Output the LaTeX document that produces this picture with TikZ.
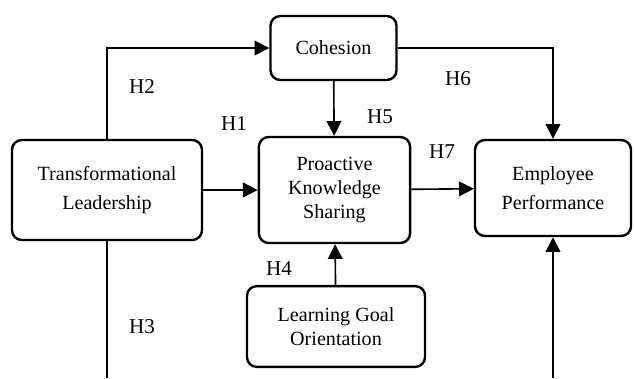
\documentclass[tikz,border=0pt]{standalone}
\usepackage{fontspec}
\setmainfont{Liberation Serif}
\usepackage{tikz}
\usetikzlibrary{
    arrows.meta,
    positioning
}
\tikzset{
  construct/.style = {draw, line width=1.7pt, rounded corners=7pt,
                      align=center, inner sep=2pt,
                      font=\fontsize{14.3}{17}\selectfont},
  hyp/.style       = {font=\fontsize{15}{17}\selectfont},
  arr/.style       = {-{Triangle[length=10.5pt,width=10.5pt]}, line width=1.15pt},
  ln/.style        = {line width=1.15pt}
}

\begin{document}
\begin{tikzpicture}[x=0.025cm, y=-0.025cm]
    \useasboundingbox (0,0) rectangle (635,378);

    % constructs
    \node[construct, minimum width=3.15cm, minimum height=1.6cm] (coh) at (333.5,48) {Cohesion};
    \node[construct, minimum width=4.75cm, minimum height=2.5cm,
          font=\fontsize{14.3}{21}\selectfont] (tl) at (107,190) {Transformational\\Leadership};
    \node[construct, minimum width=3.78cm, minimum height=2.65cm] (pks) at (334.5,190) {Proactive\\Knowledge\\Sharing};
    \node[construct, minimum width=3.9cm, minimum height=2.4cm,
          font=\fontsize{14.3}{21}\selectfont] (ep) at (553,188) {Employee\\Performance};
    \node[construct, minimum width=4.45cm, minimum height=2.02cm] (lgo) at (336,326.5) {Learning Goal\\Orientation};

    % loose ends running off the bottom
    \coordinate (tlout) at (107,378);
    \coordinate (epin) at (553,378);

    % paths
    \draw[arr] (tl.north) |- (coh.west);
    \draw[arr] (coh) -- (pks);
    \draw[arr] (coh.east) -| (ep.north);
    \draw[arr] (tl.east) -- (pks.west);
    \draw[arr] (pks) -- (ep);
    \draw[arr] (lgo) -- (pks);
    \draw[ln] (tl.south) -- (tlout);
    \draw[arr] (epin) -- (ep.south);

    % hypothesis labels
    \node[hyp] (h1) at (234,124) {H1};
    \node[hyp] (h2) at (142,87) {H2};
    \node[hyp] (h3) at (142,327) {H3};
    \node[hyp] (h4) at (279,269) {H4};
    \node[hyp] (h5) at (380,117) {H5};
    \node[hyp] (h6) at (458,79) {H6};
    \node[hyp] (h7) at (442,152) {H7};
\end{tikzpicture}
\end{document}
